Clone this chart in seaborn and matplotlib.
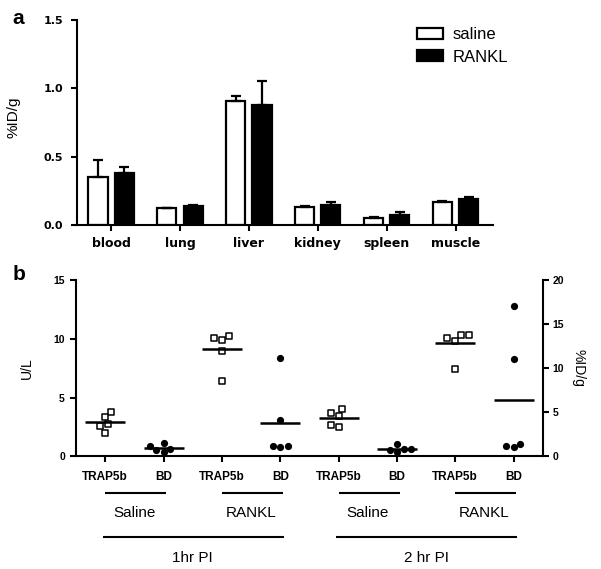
import numpy as np
import pandas as pd
import matplotlib
matplotlib.use("Agg")
import matplotlib.pyplot as plt
import matplotlib.transforms as mtransforms
from matplotlib import font_manager as fm
import seaborn as sns

# ---------------- data: panel a ----------------
organs = ["blood", "lung", "liver", "kidney", "spleen", "muscle"]
treatments = ["saline", "RANKL"]
saline_mean = [0.356, 0.124, 0.911, 0.134, 0.056, 0.173]
saline_sem = [0.121, 0.004, 0.034, 0.007, 0.004, 0.007]
rankl_mean = [0.385, 0.141, 0.879, 0.151, 0.075, 0.195]
rankl_sem = [0.039, 0.005, 0.175, 0.019, 0.020, 0.010]

# ---------------- data: panel b ----------------
b_order = ["1h Saline TRAP5b", "1h Saline BD", "1h RANKL TRAP5b", "1h RANKL BD",
           "2h Saline TRAP5b", "2h Saline BD", "2h RANKL TRAP5b", "2h RANKL BD"]
b_tick_labels = ["TRAP5b", "BD", "TRAP5b", "BD", "TRAP5b", "BD", "TRAP5b", "BD"]
group_labels = ["Saline", "RANKL", "Saline", "RANKL"]
time_labels = ["1hr PI", "2 hr PI"]

trap5b_1h_saline = [3.8, 3.35, 2.75, 2.55, 2.0]
bd_1h_saline = [1.5, 1.15, 0.85, 0.75, 0.45]
trap5b_1h_rankl = [10.2, 10.1, 9.9, 9.0, 6.4]
bd_1h_rankl = [11.1, 4.1, 1.2, 1.05, 1.2]
trap5b_2h_saline = [4.0, 3.7, 3.4, 2.7, 2.45]
bd_2h_saline = [1.35, 0.85, 0.8, 0.75, 0.5]
trap5b_2h_rankl = [10.35, 10.35, 10.1, 9.85, 7.45]
bd_2h_rankl = [17.1, 11.0, 1.45, 1.2, 1.0]

# ---------------- style ----------------
sns.set_style("ticks")
avail = {f.name for f in fm.fontManager.ttflist}
narrow = "Liberation Sans Narrow" in avail
plt.rcParams["font.family"] = ["Liberation Sans", "DejaVu Sans"]
plt.rcParams["axes.linewidth"] = 1.5
for k in ["text.color", "axes.labelcolor", "xtick.color", "ytick.color", "axes.edgecolor"]:
    plt.rcParams[k] = "black"
NARROW = ["Liberation Sans Narrow", "Liberation Sans"] if narrow else ["Liberation Sans"]

fig = plt.figure(figsize=(6.01, 5.69), dpi=100)

# ================= panel a =================
axa = fig.add_axes([0.1276, 0.6040, 0.6922, 0.3609])
df_a = pd.DataFrame({
    "organ": organs * 2,
    "treatment": [treatments[0]] * len(organs) + [treatments[1]] * len(organs),
    "value": saline_mean + rankl_mean,
})
sns.barplot(data=df_a, x="organ", y="value", hue="treatment", order=organs,
            hue_order=treatments, palette={"saline": "white", "RANKL": "black"},
            edgecolor="black", linewidth=1.6, errorbar=None, width=0.76, gap=0.27,
            ax=axa)
for cont, sem in zip(axa.containers, [saline_sem, rankl_sem]):
    xs = [p.get_x() + p.get_width() / 2 for p in cont.patches]
    hs = [p.get_height() for p in cont.patches]
    axa.errorbar(xs, hs, yerr=[np.zeros(len(sem)), sem], fmt="none", ecolor="black",
                 elinewidth=1.6, capsize=3.8, capthick=1.6, zorder=3)

axa.set_ylim(0, 1.5)
axa.set_xlim(-0.5, 5.54)
axa.set_yticks([0, 0.5, 1.0, 1.5])
axa.set_yticklabels(["0.0", "0.5", "1.0", "1.5"])
axa.set_xlabel("")
axa.set_ylabel("%ID/g", fontsize=11)
axa.yaxis.set_label_coords(-0.136, 0.527)
sns.despine(ax=axa)
axa.tick_params(axis="both", width=1.5, length=4.5, color="black", labelcolor="black")
axa.tick_params(axis="y", pad=5)
axa.tick_params(axis="x", pad=4)
for lab in axa.get_yticklabels():
    lab.set_fontfamily("DejaVu Sans"); lab.set_fontweight("bold"); lab.set_fontsize(8)
for lab in axa.get_xticklabels():
    lab.set_fontfamily("DejaVu Sans"); lab.set_fontweight("bold"); lab.set_fontsize(9)
sns.move_legend(axa, "upper left", bbox_to_anchor=(0.6939, 0.9525),
                bbox_transform=fig.transFigure, title=None, frameon=False,
                fontsize=12, handlelength=1.55, handleheight=0.66,
                handletextpad=0.6, borderpad=0, borderaxespad=0, labelspacing=0.45)

# ================= panel b =================
axb = fig.add_axes([0.1265, 0.1981, 0.7765, 0.3098])
axb2 = axb.twinx()

trap_groups = {b_order[0]: trap5b_1h_saline, b_order[2]: trap5b_1h_rankl,
               b_order[4]: trap5b_2h_saline, b_order[6]: trap5b_2h_rankl}
bd_groups = {b_order[1]: bd_1h_saline, b_order[3]: bd_1h_rankl,
             b_order[5]: bd_2h_saline, b_order[7]: bd_2h_rankl}
df_trap = pd.DataFrame([(k, v) for k, vals in trap_groups.items() for v in vals],
                       columns=["cat", "value"])
df_bd = pd.DataFrame([(k, v) for k, vals in bd_groups.items() for v in vals],
                     columns=["cat", "value"])

axb.set_ylim(0, 15)
axb2.set_ylim(0, 20)

sns.swarmplot(data=df_trap, x="cat", y="value", order=b_order, marker="s",
              color="white", edgecolor="black", linewidth=1.1, size=4.6, ax=axb,
              zorder=3)
sns.pointplot(data=df_trap, x="cat", y="value", order=b_order, errorbar=None,
              color="black", marker="_", linestyle="none", markersize=29,
              markeredgewidth=1.8, ax=axb, zorder=4)
sns.swarmplot(data=df_bd, x="cat", y="value", order=b_order, marker="o",
              color="black", linewidth=0, size=5.2, ax=axb2, zorder=3)
sns.pointplot(data=df_bd, x="cat", y="value", order=b_order, errorbar=None,
              color="black", marker="_", linestyle="none", markersize=29,
              markeredgewidth=1.8, ax=axb2, zorder=4)

for a in (axb, axb2):
    a.set_xlim(-0.5, 7.5)
axb.set_ylim(0, 15)
axb2.set_ylim(0, 20)
axb.set_yticks([0, 5, 10, 15])
axb2.set_yticks([0, 5, 10, 15, 20])
axb.set_xticks(range(len(b_order)))
axb.set_xticklabels(b_tick_labels)
axb.set_xlabel("")
axb2.set_xlabel("")
axb.set_ylabel("U/L", fontsize=10, family=NARROW)
axb.yaxis.set_label_coords(-0.09, 0.5)
axb2.set_ylabel("%ID/g", fontsize=10, family=NARROW, rotation=270, va="center")
axb2.yaxis.set_label_coords(1.0757, 0.5)
for a in (axb, axb2):
    a.spines["top"].set_visible(False)
axb.spines["right"].set_visible(False)
axb2.spines["left"].set_visible(False)
axb2.spines["bottom"].set_visible(False)
axb.tick_params(axis="both", width=1.5, length=4.5, color="black", labelcolor="black")
axb.tick_params(axis="x", pad=6)
axb2.tick_params(axis="y", width=1.5, length=4, color="black", pad=3, labelcolor="black")
for lab in axb.get_yticklabels() + axb2.get_yticklabels():
    lab.set_fontfamily(NARROW); lab.set_fontweight("bold")
    lab.set_fontsize(8.5 if narrow else 7.5)
for lab in axb.get_xticklabels():
    lab.set_fontfamily(NARROW); lab.set_fontweight("bold")
    lab.set_fontsize(10 if narrow else 8.5)

# bracket annotations under panel b
trans = mtransforms.blended_transform_factory(axb.transData, axb.transAxes)
grp_fs = 12.5 if narrow else 11
for i, g in enumerate(group_labels):
    x0, x1 = 2 * i, 2 * i + 1.05
    axb.plot([x0, x1], [-0.206, -0.206], color="black", lw=1.5, transform=trans,
             clip_on=False, solid_capstyle="butt")
    axb.text((x0 + x1) / 2 - 0.03, -0.323, g, transform=trans, ha="center",
             va="center", fontsize=grp_fs, family=NARROW)
for i, t in enumerate(time_labels):
    x0, x1 = 4 * i - 0.04, 4 * i + 3.06
    axb.plot([x0, x1], [-0.456, -0.456], color="black", lw=1.5, transform=trans,
             clip_on=False, solid_capstyle="butt")
    axb.text(4 * i + 1.5, -0.575, t, transform=trans, ha="center", va="center",
             fontsize=grp_fs, family=NARROW)

# panel letters
fig.text(12 / 601, 1 - 9 / 569, "a", fontsize=15, fontweight="bold", va="top")
fig.text(13 / 601, 1 - 265 / 569, "b", fontsize=15, fontweight="bold", va="top")

fig.savefig("out.png", dpi=100)
